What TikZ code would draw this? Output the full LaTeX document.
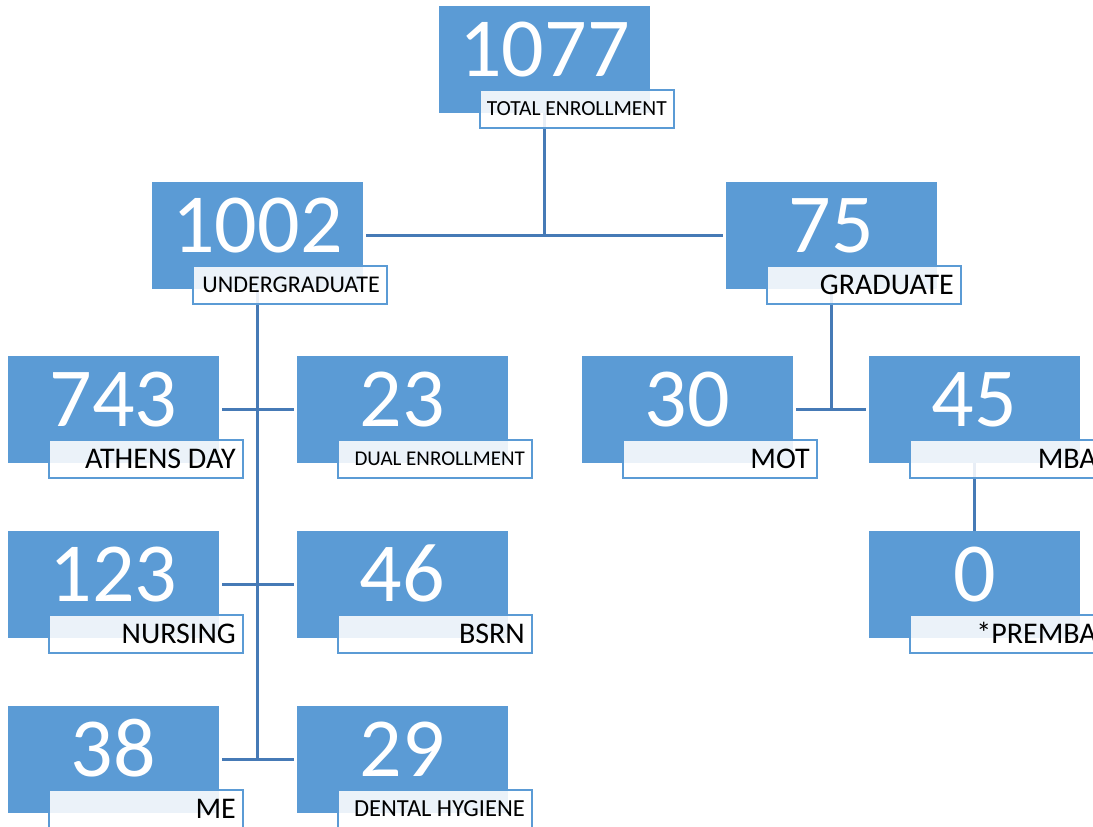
\documentclass[tikz,border=0pt]{standalone}
\usepackage{fontspec}
\setmainfont{Carlito}
\definecolor{boxblue}{RGB}{91,155,213}
\definecolor{lblue}{RGB}{91,155,213}
\definecolor{lineblue}{RGB}{70,122,182}
\tikzset{
  bluebox/.style={fill=boxblue, draw=none, minimum width=211pt, minimum height=107pt, inner sep=0pt, outer sep=0pt},
  numtext/.style={text=white, inner sep=0pt, font=\fontsize{84}{84}\selectfont},
  labelbox/.style={fill=white, fill opacity=0.88, draw=lblue, line width=1.8pt, minimum width=194pt, minimum height=38pt, inner sep=0pt, outer sep=0pt},
  conn/.style={draw=lineblue, line width=2.5pt},
  gap/.style={shorten <=3pt, shorten >=3pt}
}
\newcommand\unitbox[4]{%
  \node[bluebox, anchor=north west] (#1) at (#2,#3) {};
  \node[numtext, anchor=base] (#1N) at ([yshift=-70pt]#1.north) {#4};
}
\newcommand\unitlabel[3]{%
  \node[labelbox, anchor=north west] (#1L) at ([xshift=41pt,yshift=-84pt]#1.north west) {};
  \node[inner sep=0pt, text=black, font=\fontsize{#3}{#3}\selectfont, anchor=base east] (#1T) at ([xshift=-7pt,yshift=-18.5pt-0.322*#3pt]#1L.north east) {#2};
}
\begin{document}
\begin{tikzpicture}[x=1pt,y=-1pt]
\useasboundingbox (0,0) rectangle (1093,827);
\clip (0,0) rectangle (1093,827);
% blue boxes
\unitbox{tot}{439}{6}{1077}
\unitbox{ug}{152}{182}{1002}
\unitbox{gr}{726}{182}{75}
\unitbox{ath}{8}{356}{743}
\unitbox{dual}{297}{356}{23}
\unitbox{nur}{8}{531}{123}
\unitbox{bsrn}{297}{531}{46}
\unitbox{me}{8}{706}{38}
\unitbox{dh}{297}{706}{29}
\unitbox{mot}{582}{356}{30}
\unitbox{mba}{869}{356}{45}
\unitbox{pre}{869}{531}{0}
% connectors
\draw[conn] (tot.south) -- (tot.south |- ug.east);
\draw[conn, gap] (ug.east) -- (gr.west);
\draw[conn] (ug.south) -- (ug.south |- me.east);
\draw[conn, gap] (ath.east) -- (dual.west);
\draw[conn, gap] (nur.east) -- (bsrn.west);
\draw[conn, gap] (me.east) -- (dh.west);
\draw[conn] (gr.south) -- (gr.south |- mot.east);
\draw[conn, gap] (mot.east) -- (mba.west);
\draw[conn] (mba.south) -- (pre.north);
% labels
\unitlabel{tot}{TOTAL ENROLLMENT}{21.5}
\unitlabel{ug}{UNDERGRADUATE}{24}
\unitlabel{gr}{GRADUATE}{30}
\unitlabel{ath}{ATHENS DAY}{30}
\unitlabel{dual}{DUAL ENROLLMENT}{21}
\unitlabel{nur}{NURSING}{30}
\unitlabel{bsrn}{BSRN}{30}
\unitlabel{me}{ME}{30}
\unitlabel{dh}{DENTAL HYGIENE}{24.5}
\unitlabel{mot}{MOT}{30}
\unitlabel{mba}{MBA}{30}
\unitlabel{pre}{*PREMBA}{30}
\end{tikzpicture}
\end{document}
